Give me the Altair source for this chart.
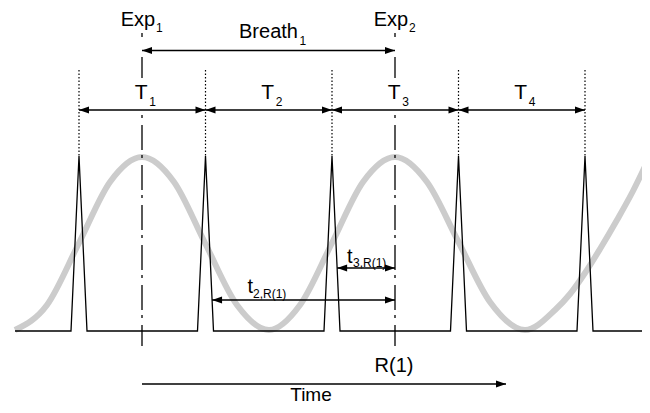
import altair as alt
import pandas as pd

# ---------------- values ----------------
# time axis and level axis are in the figure's own units (image pixels)
beat_times = [79, 205.5, 332, 458.5, 585]          # trigger spikes (R-peaks)
exp_times = [142, 395]                             # Exp1, Exp2 (respiration peaks)
resp_t = [15, 47, 79, 110, 142, 174, 205, 237, 269, 300, 332, 363,
          395, 427, 458, 490, 525, 555, 570, 585, 600, 617, 633, 648]
resp_level = [330, 305, 243, 182, 157, 182, 243, 305, 330, 305, 243, 182,
              157, 182, 241, 302, 330, 310, 294, 273, 249, 220, 191, 160]
signal_span = [15, 648]
spike_halfwidth = 8
base_level, peak_level = 331, 156
r1_time = 395
time_arrow_span = [142, 506]
T_names = ["1", "2", "3", "4"]

# ---------------- layout rows ----------------
Y_EXP = 26
Y_BREATH_LBL = 38
Y_BREATH = 50.5
Y_DOT_TOP = 70
Y_T_LBL = 99
Y_T = 110
Y_T3 = 268
Y_T2 = 300
Y_DASH_END = 346
Y_R1 = 372
Y_TIME = 384
Y_TIME_LBL = 401

W, H = 634, 397
FONT = "Liberation Sans"
X = lambda f="x": alt.X(f"{f}:Q", scale=alt.Scale(domain=[8, 8 + W], nice=False, zero=False), axis=None)
Y = lambda f="y": alt.Y(f"{f}:Q", scale=alt.Scale(domain=[8 + H, 8], nice=False, zero=False), axis=None)

# respiration curve
resp = pd.DataFrame({"x": resp_t, "y": resp_level, "o": range(len(resp_t))})

# pulse train
px, py = [signal_span[0]], [base_level]
for b in beat_times:
    px += [b - spike_halfwidth, b, b + spike_halfwidth]
    py += [base_level, peak_level, base_level]
px.append(signal_span[1]); py.append(base_level)
pulse = pd.DataFrame({"x": px, "y": py, "o": range(len(px))})

def edge_at(b, y):
    return b + spike_halfwidth * (y - peak_level) / (base_level - peak_level)

t3_left = edge_at(beat_times[2], Y_T3)
t2_left = edge_at(beat_times[1], Y_T2)

# solid segments (arrow shafts, pieces of Exp lines)
seg = [(exp_times[0], Y_BREATH, exp_times[1], Y_BREATH),
       (t3_left, Y_T3, r1_time, Y_T3),
       (t2_left, Y_T2, r1_time, Y_T2),
       (time_arrow_span[0], Y_TIME, time_arrow_span[1], Y_TIME)]
for a, b in zip(beat_times[:-1], beat_times[1:]):
    seg.append((a, Y_T, b, Y_T))
for e in exp_times:
    seg.append((e, 33, e, 37))
    seg.append((e, 57, e, 78))
solid = pd.DataFrame(seg, columns=["x", "y", "x2", "y2"])

dotted = pd.DataFrame({"x": beat_times, "y": [Y_DOT_TOP] * 5,
                       "x2": beat_times, "y2": [peak_level] * 5})
dashdot = pd.DataFrame({"x": exp_times, "y": [115, 115],
                        "x2": exp_times, "y2": [Y_DASH_END] * 2})

# arrow heads
right_heads = [(exp_times[1], Y_BREATH), (r1_time, Y_T3), (r1_time, Y_T2),
               (time_arrow_span[1], Y_TIME)] + [(b, Y_T) for b in beat_times[1:]]
left_heads = [(exp_times[0], Y_BREATH), (t3_left, Y_T3), (t2_left, Y_T2)] + \
             [(b, Y_T) for b in beat_times[:-1]]
rh = pd.DataFrame(right_heads, columns=["x", "y"])
lh = pd.DataFrame(left_heads, columns=["x", "y"])

# texts
mids = [(a + b) / 2 for a, b in zip(beat_times[:-1], beat_times[1:])]
breath_mid = (exp_times[0] + exp_times[1]) / 2
ctext = [("Exp", exp_times[0] - 4, Y_EXP, 20), ("Exp", exp_times[1] - 4, Y_EXP, 20),
         ("Breath", breath_mid, Y_BREATH_LBL, 20),
         ("R(1)", r1_time - 1, Y_R1, 20), ("Time", 311, Y_TIME_LBL, 19)]
ctext += [("T", m - 1, Y_T_LBL, 21) for m in mids]
ltext = [("1", exp_times[0] + 14, Y_EXP + 6, 12), ("2", exp_times[1] + 14, Y_EXP + 6, 12),
         ("1", breath_mid + 31, Y_BREATH_LBL + 7, 12),
         ("t", 347, Y_T3 - 5, 20), ("3,R(1)", 353, Y_T3 - 1, 12),
         ("t", 247.5, Y_T2 - 7, 20), ("2,R(1)", 253, Y_T2 - 2, 12)]
ltext += [(n, m + 7, Y_T_LBL + 7, 12) for n, m in zip(T_names, mids)]
ct = pd.DataFrame(ctext, columns=["t", "x", "y", "fs"])
lt = pd.DataFrame(ltext, columns=["t", "x", "y", "fs"])

# ---------------- layers ----------------
resp_line = alt.Chart(resp).mark_line(color="#cccccc", strokeWidth=6, interpolate="monotone").encode(
    x=X(), y=Y(), order="o:Q")
pulse_line = alt.Chart(pulse).mark_line(color="black", strokeWidth=1.3).encode(
    x=X(), y=Y(), order="o:Q")
solid_rules = alt.Chart(solid).mark_rule(color="black", strokeWidth=1.3).encode(
    x=X(), y=Y(), x2="x2:Q", y2="y2:Q")
dotted_rules = alt.Chart(dotted).mark_rule(color="black", strokeWidth=1.2, strokeDash=[1.5, 2]).encode(
    x=X(), y=Y(), x2="x2:Q", y2="y2:Q")
dashdot_rules = alt.Chart(dashdot).mark_rule(color="black", strokeWidth=1.3, strokeDash=[3, 7, 25, 5]).encode(
    x=X(), y=Y(), x2="x2:Q", y2="y2:Q")
rhead = alt.Chart(rh).mark_point(shape="M0,0L-2,-0.7L-2,0.7Z", filled=True, size=100,
                                  color="black", opacity=1, strokeWidth=0).encode(x=X(), y=Y())
lhead = alt.Chart(lh).mark_point(shape="M0,0L2,-0.7L2,0.7Z", filled=True, size=100,
                                  color="black", opacity=1, strokeWidth=0).encode(x=X(), y=Y())
ctext_l = alt.Chart(ct).mark_text(font=FONT, align="center", baseline="alphabetic", color="black").encode(
    x=X(), y=Y(), text="t:N", size=alt.Size("fs:Q", scale=None))
ltext_l = alt.Chart(lt).mark_text(font=FONT, align="left", baseline="alphabetic", color="black").encode(
    x=X(), y=Y(), text="t:N", size=alt.Size("fs:Q", scale=None))

chart = alt.layer(resp_line, pulse_line, dotted_rules, dashdot_rules, solid_rules,
                  rhead, lhead, ctext_l, ltext_l).properties(
    width=W, height=H, padding=0, autosize=alt.AutoSizeParams(type="none"),
    background="white").configure_view(stroke=None)

chart.save("out.html", embed_options={"renderer": "svg", "actions": False})
